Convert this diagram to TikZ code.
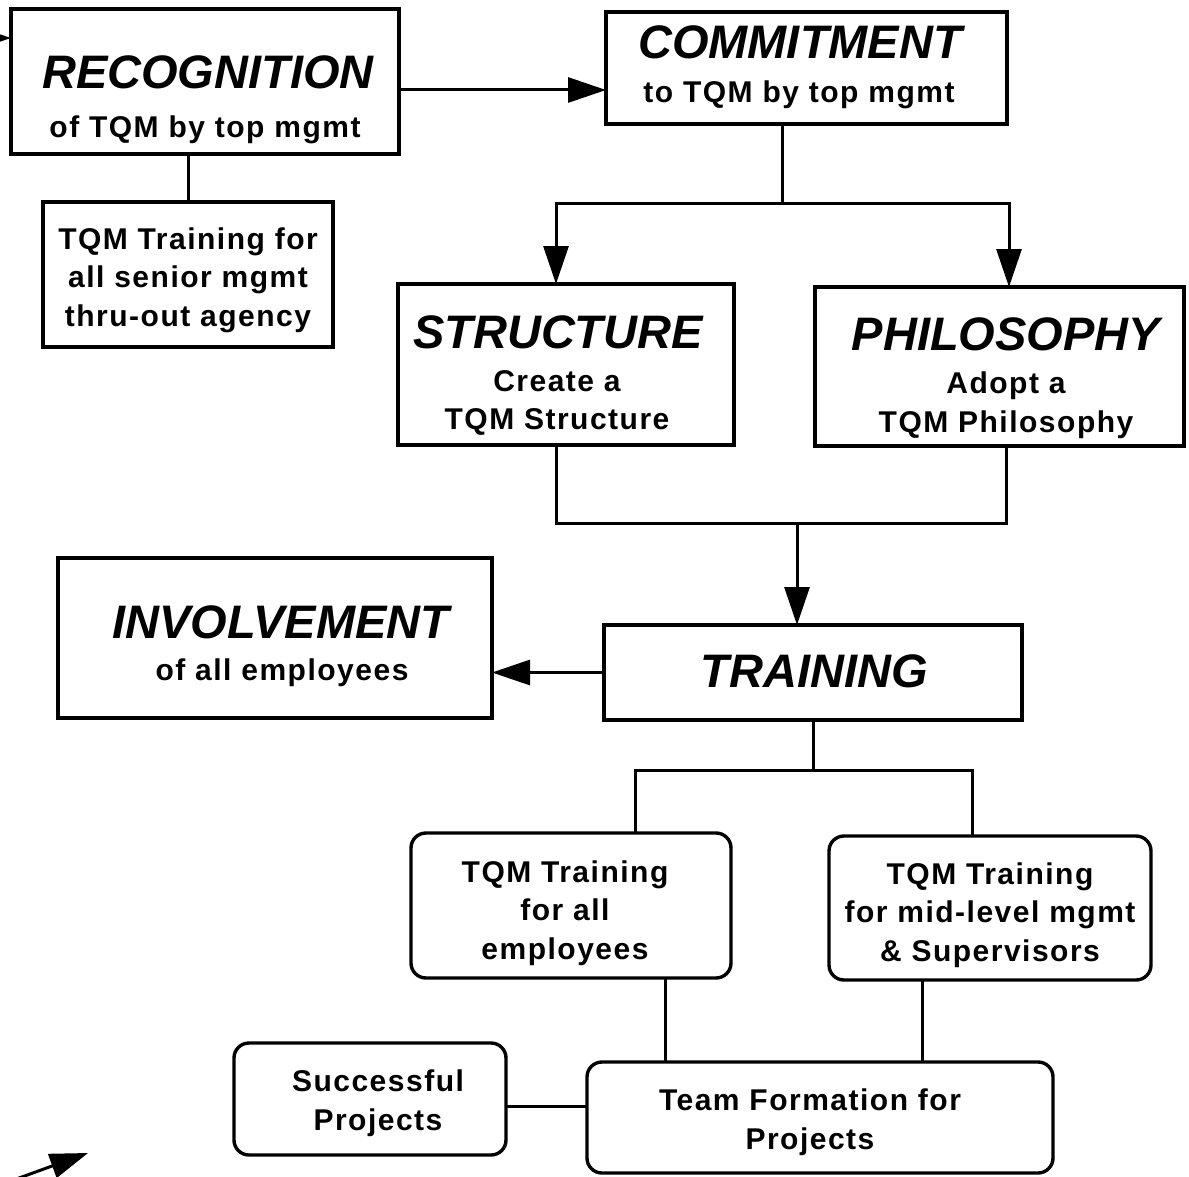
\documentclass[tikz,border=0pt]{standalone}
\usepackage{fontspec}
\setmainfont{Liberation Sans}
\newfontfamily\subfont[LetterSpace=5]{Liberation Sans}
\usetikzlibrary{arrows.meta,calc,positioning}
\tikzset{box/.style={draw,line width=1.7pt,inner sep=0pt,outer sep=0pt},
  rbox/.style={box,rounded corners=7.5pt},
  ttl/.style={font=\fontsize{23.5}{27}\selectfont\bfseries\itshape,inner sep=0pt},
  txt/.style={font=\subfont\fontsize{15}{19.3}\selectfont\bfseries,align=center,inner sep=0pt},
  ln/.style={line width=1.5pt},
  arr/.style={-{Triangle[length=19pt,width=12.5pt]},line width=1.5pt}}

\begin{document}
\begin{tikzpicture}[x=0.5pt,y=-0.5pt]
\useasboundingbox (0,0) rectangle (1189,1177);
% boxes
\node[box,minimum width=194pt,minimum height=72.5pt] (recog) at (205,81.5) {};
\node[box,minimum width=200.5pt,minimum height=56pt] (commit) at (806.5,68) {};
\node[box,minimum width=145pt,minimum height=72.5pt] (senior) at (188,274.5) {};
\node[box,minimum width=168pt,minimum height=80.5pt] (struct) at (566,364.5) {};
\node[box,minimum width=184.5pt,minimum height=79.5pt] (philo) at (999.5,366.5) {};
\node[box,minimum width=217pt,minimum height=80pt] (involv) at (275,638) {};
\node[box,minimum width=209pt,minimum height=47.5pt] (train) at (813,672.5) {};
\node[rbox,minimum width=160pt,minimum height=72.5pt] (allemp) at (571,905.5) {};
\node[rbox,minimum width=161pt,minimum height=72pt] (midlvl) at (990,908) {};
\node[rbox,minimum width=136pt,minimum height=56pt] (succ) at (370,1099) {};
\node[rbox,minimum width=233pt,minimum height=55.5pt] (team) at (820,1117.5) {};
% texts
\node[ttl] (recogT) at (208,72) {RECOGNITION};
\node[txt] (recogS) at (205,130) {of TQM by top mgmt};
\node[ttl] (commitT) at (800,42) {COMMITMENT};
\node[txt] (commitS) at (799,95) {to TQM by top mgmt};
\node[txt] (seniorS) at (188,280) {TQM Training for\\all senior mgmt\\thru-out agency};
\node[ttl] (structT) at (558,332) {STRUCTURE};
\node[txt] (structS) at (557,403) {Create a\\TQM Structure};
\node[ttl] (philoT) at (1006,334) {PHILOSOPHY};
\node[txt] (philoS) at (1006,405) {Adopt a\\TQM Philosophy};
\node[ttl] (involvT) at (281,622) {INVOLVEMENT};
\node[txt] (involvS) at (282,673) {of all employees};
\node[ttl] (trainT) at (814,671) {TRAINING};
\node[txt] (allempS) at (565,913) {TQM Training\\for all\\employees};
\node[txt] (midlvlS) at (990,915) {TQM Training\\for mid-level mgmt\\\& Supervisors};
\node[txt] (succS) at (378,1103) {Successful\\Projects};
\node[txt] (teamS) at (810,1122) {Team Formation for\\Projects};
% connectors
\coordinate (c1) at (782,203);
\coordinate (c2) at (797,523);
\coordinate (c3) at (813,770);
\coordinate (inL) at (-40,38);
\coordinate (loopA) at (8,1182);
\coordinate (loopB) at (88,1153);
\draw[arr] (inL) -- (inL -| recog.west);
\draw[arr] ($(recog.east)+(0,8.5)$) -- ($(commit.west)+(0,22)$);
\draw[ln] (senior.north) -- (senior.north |- recog.south);
\draw[ln] (c1 |- commit.south) -- (c1);
\draw[arr] (c1) -| ($(struct.north)+(-10,0)$);
\draw[arr] (c1) -| ($(philo.north)+(9.5,0)$);
\draw[ln] ($(struct.south)+(-10,0)$) |- (c2) -| ($(philo.south)+(6.5,0)$);
\draw[arr] (c2) -- (c2 |- train.north);
\draw[arr] (train.west) -- (train.west -| involv.east);
\draw[ln] (train.south) -- (c3);
\draw[ln] ($(allemp.north)+(64,0)$) |- (c3) -| ($(midlvl.north)+(-18,0)$);
\draw[ln] ($(allemp.south)+(94,0)$) -- ($(team.north)+(-155,0)$);
\draw[ln] ($(midlvl.south)+(-68,0)$) -- ($(team.north)+(102,0)$);
\draw[ln] ($(succ.east)+(0,7)$) -- ($(team.west)+(0,-11.5)$);
\draw[arr] (loopA) -- (loopB);
\end{tikzpicture}
\end{document}
